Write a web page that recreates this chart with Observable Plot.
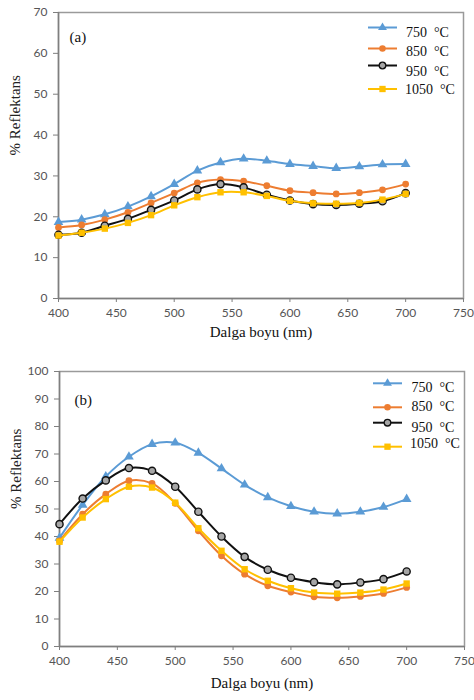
<!DOCTYPE html>
<html>
<head>
<meta charset="utf-8">
<script src="https://cdn.jsdelivr.net/npm/d3@7"></script>
<script src="https://cdn.jsdelivr.net/npm/@observablehq/plot@0.6"></script>
<style>
  html, body { margin: 0; padding: 0; background: #fff; }
  #wrap { position: relative; width: 474px; height: 700px; overflow: hidden; }
  #wrap svg { display: block; }
  .legend { position: absolute; pointer-events: none; }
</style>
</head>
<body>
<div id="wrap"></div>
<script>
// ---- data ----
const wavelength = [400, 420, 440, 460, 480, 500, 520, 540, 560, 580, 600, 620, 640, 660, 680, 700];
const seriesNames = ["750  °C", "850  °C", "950  °C", "1050  °C"];
const seriesColors = ["#5b9bd5", "#ed7d31", "#111111", "#ffc000"];
const seriesSymbols = ["triangle", "circle", "circle", "square"];

// panel (a)
const a750  = [18.7, 19.3, 20.6, 22.5, 25.0, 28.0, 31.3, 33.3, 34.2, 33.7, 32.9, 32.4, 31.9, 32.3, 32.8, 32.9];
const a850  = [17.4, 18.0, 19.3, 21.1, 23.4, 25.8, 28.3, 29.1, 28.7, 27.6, 26.4, 25.9, 25.6, 25.9, 26.6, 28.0];
const a950  = [15.6, 16.1, 17.8, 19.5, 21.7, 24.0, 26.7, 28.0, 27.2, 25.4, 24.0, 23.1, 22.9, 23.2, 23.8, 25.8];
const a1050 = [15.4, 16.1, 17.1, 18.5, 20.4, 22.8, 24.8, 26.0, 26.0, 25.1, 23.9, 23.3, 23.2, 23.4, 24.2, 25.6];

// panel (b)
const b750  = [39.5, 51.5, 61.8, 69.0, 73.6, 74.1, 70.4, 64.7, 58.8, 54.2, 51.0, 49.0, 48.3, 49.0, 50.7, 53.6];
const b850  = [38.4, 48.1, 55.4, 60.3, 59.3, 52.1, 42.1, 33.0, 26.3, 22.1, 19.8, 18.1, 17.7, 18.2, 19.3, 21.5];
const b950  = [44.5, 53.8, 60.4, 64.9, 63.9, 58.1, 49.0, 40.0, 32.6, 27.9, 25.0, 23.4, 22.6, 23.3, 24.5, 27.3];
const b1050 = [38.1, 46.9, 53.6, 58.1, 57.8, 52.3, 43.0, 34.8, 28.1, 23.9, 21.2, 19.6, 19.2, 19.6, 20.7, 22.9];

const xTicks = [400, 450, 500, 550, 600, 650, 700, 750];
const yTicksA = [0, 10, 20, 30, 40, 50, 60, 70];
const yTicksB = [0, 10, 20, 30, 40, 50, 60, 70, 80, 90, 100];
const xLabel = "Dalga boyu (nm)";
const yLabel = "% Reflektans";

function tidy(arrays) {
  const rows = [];
  arrays.forEach((vals, si) => {
    vals.forEach((v, i) => rows.push({x: wavelength[i], y: v, s: si}));
  });
  return rows;
}

const serif = "'Liberation Serif', 'Times New Roman', serif";
const sans = "Lato, 'Open Sans', sans-serif";

function panel(opts) {
  const data = tidy(opts.series);
  const marks = [
    Plot.frame({stroke: "#9a9a9a", strokeWidth: 1.5}),
    Plot.ruleX([opts.xDomain[0]], {stroke: "#7f7f7f", strokeWidth: 1.5}),
    Plot.ruleY([opts.yDomain[0]], {stroke: "#7f7f7f", strokeWidth: 1.5}),
    Plot.axisX({ticks: xTicks, tickSize: 4, tickPadding: 6, label: null, stroke: "#7f7f7f",
      fill: "#555", fontSize: 12}),
    Plot.axisY({ticks: opts.yTicks, tickSize: 5, tickPadding: 6, label: null, stroke: "#7f7f7f",
      fill: "#555", fontSize: 12})
  ];
  opts.series.forEach((vals, si) => {
    const rows = data.filter(d => d.s === si);
    marks.push(Plot.line(rows, {x: "x", y: "y", stroke: seriesColors[si], strokeWidth: 2, curve: "catmull-rom"}));
    if (si === 2) {
      marks.push(Plot.dot(rows, {x: "x", y: "y", r: 3.6, symbol: "circle", fill: "#a6a6a6", stroke: "#111", strokeWidth: 1.4}));
    } else if (si === 0) {
      marks.push(Plot.dot(rows, {x: "x", y: "y", r: 3.6, symbol: "triangle", fill: seriesColors[si], stroke: "none"}));
    } else {
      marks.push(Plot.dot(rows, {x: "x", y: "y", r: si === 3 ? 3.6 : 3.4, symbol: seriesSymbols[si], fill: seriesColors[si], stroke: "none"}));
    }
  });
  marks.push(Plot.text([opts.tag], {frameAnchor: "top-left", dx: opts.tagDx, dy: opts.tagDy, text: d => d,
    fontSize: 15, fill: "#111", textAnchor: "start"}));
  marks.push(Plot.text([xLabel], {frameAnchor: "bottom", dy: opts.xLabelDy, text: d => d,
    fontSize: 15, fill: "#111"}));
  marks.push(Plot.text([yLabel], {frameAnchor: "left", dx: -43, rotate: -90, text: d => d,
    fontSize: 15, fill: "#222"}));

  const svg = Plot.plot({
    width: 474,
    height: opts.height,
    marginTop: opts.marginTop,
    marginBottom: opts.marginBottom,
    marginLeft: opts.marginLeft,
    marginRight: opts.marginRight,
    x: {domain: opts.xDomain},
    y: {domain: opts.yDomain},
    style: {background: "#fff", overflow: "visible", fontFamily: serif},
    marks
  });
  const s = d3.select(svg);
  s.selectAll("text").style("font-family", serif);
  s.selectAll('[aria-label$="tick label"] text').style("font-family", sans);
  return svg;
}

function legend(top, left, rows) {
  const w = 110, h = 100;
  const svg = d3.create("svg").attr("width", w).attr("height", h).attr("class", "legend")
    .style("left", left + "px").style("top", top + "px");
  seriesNames.forEach((name, i) => {
    const r = rows[i];
    const g = svg.append("g");
    g.append("line").attr("x1", 0).attr("x2", 29).attr("y1", r.ly).attr("y2", r.ly)
      .attr("stroke", seriesColors[i]).attr("stroke-width", 2);
    const sym = d3.symbol().type(
      seriesSymbols[i] === "triangle" ? d3.symbolTriangle :
      seriesSymbols[i] === "square" ? d3.symbolSquare : d3.symbolCircle).size(i === 3 ? 40 : 34);
    g.append("path").attr("d", sym()).attr("transform", `translate(14.5,${r.ly})`)
      .attr("fill", i === 2 ? "#a6a6a6" : seriesColors[i])
      .attr("stroke", i === 2 ? "#111" : "none").attr("stroke-width", 1.3);
    g.append("text").attr("x", r.tx).attr("y", r.ty).attr("dy", "0.35em")
      .attr("font-size", 14).attr("fill", "#111")
      .style("font-family", serif)
      .style("white-space", "pre").attr("xml:space", "preserve").text(name);
  });
  return svg.node();
}

const wrap = document.getElementById("wrap");

const pa = panel({
  series: [a750, a850, a950, a1050], yDomain: [0, 70], xDomain: [400, 750], yTicks: yTicksA,
  height: 345, marginTop: 12, marginBottom: 47, marginLeft: 58, marginRight: 11,
  tag: "(a)", tagDx: 11, tagDy: 19, xLabelDy: 38
});
const pb = panel({
  series: [b750, b850, b950, b1050], yDomain: [0, 100], xDomain: [400, 750], yTicks: yTicksB,
  height: 355, marginTop: 26, marginBottom: 54, marginLeft: 59, marginRight: 10,
  tag: "(b)", tagDx: 15, tagDy: 23, xLabelDy: 41
});
wrap.appendChild(pa);
wrap.appendChild(pb);

wrap.appendChild(legend(15, 368, [
  {ly: 12.5, tx: 38, ty: 17},
  {ly: 33.5, tx: 38, ty: 36},
  {ly: 50.5, tx: 38, ty: 56},
  {ly: 74, tx: 37, ty: 74}
]));
wrap.appendChild(legend(370, 373, [
  {ly: 13.3, tx: 38.5, ty: 17.5},
  {ly: 37.3, tx: 38.5, ty: 36},
  {ly: 52.7, tx: 38.5, ty: 56.7},
  {ly: 76.7, tx: 37, ty: 73.3}
]));
</script>
</body>
</html>
